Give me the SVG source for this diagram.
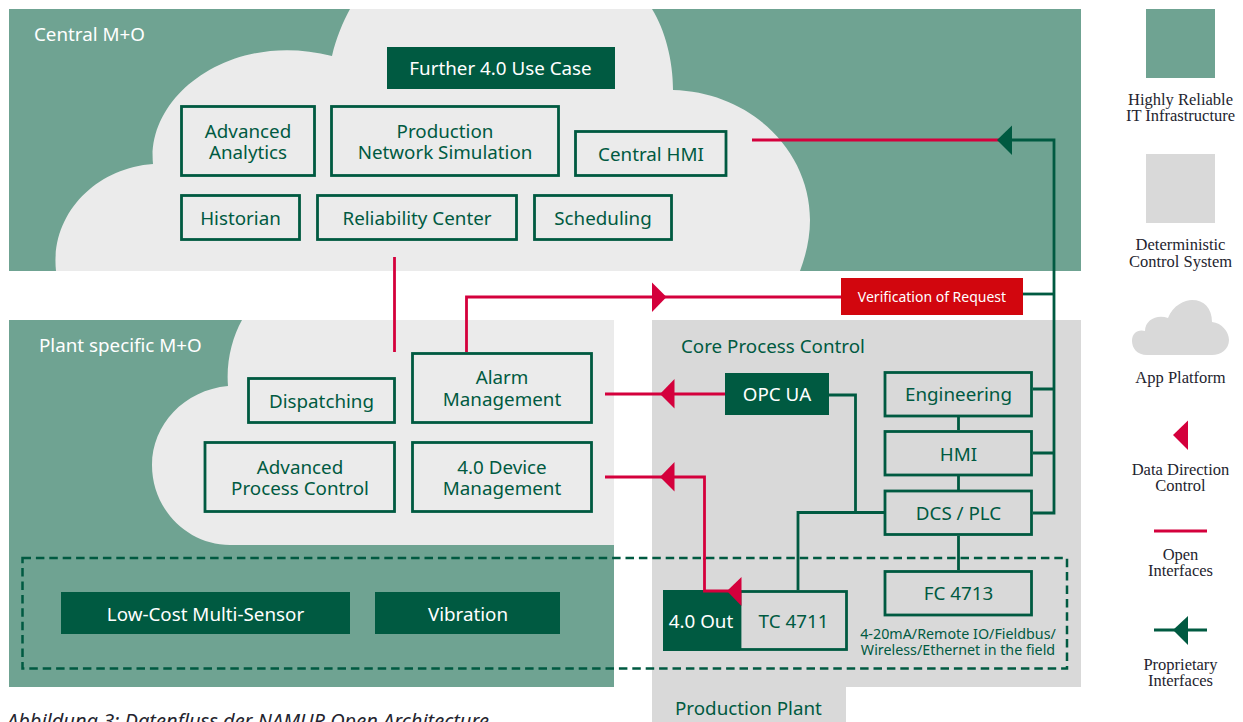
<svg xmlns="http://www.w3.org/2000/svg" width="1243" height="722" viewBox="0 0 1243 722">
<style>
text{font-family:"Noto Sans","Liberation Sans",sans-serif;font-size:18.800px;fill:#005a41;text-anchor:middle}
.w{fill:#fff}
.l{text-anchor:start}
.box{fill:none;stroke:#005a41;stroke-width:2.800}
.dark{fill:#005a41}
.g{fill:none;stroke:#005a41;stroke-width:2.800}
.r{fill:none;stroke:#d4003c;stroke-width:2.800}
.ra{fill:#d4003c}
.ga{fill:#005a41}
.leg{font-family:"Liberation Serif",serif;font-size:16.500px;fill:#24242e}
.s{font-size:14.300px}
</style>
<g id="backgrounds">
<rect x="9" y="9" width="1072" height="262" fill="#6fa392"/>
<rect x="9" y="320" width="605" height="367" fill="#6fa392"/>
<path d="M652 320H1081V687H846V722H652Z" fill="#d9d9d9"/>
<path id="cloud-central" d="M56 271C50 215 95 168 153 164C146 95 232 30 332 56C336 38 343 22 350 9H652C665 30 673 60 673 90C750 92 810 150 810 220C810 238 806 255 800 271Z" fill="#ebebeb"/>
<path id="cloud-plant" d="M242 320C232 338 226 362 228 386C184 390 152 425 152 465C152 510 188 545 230 545H614V320Z" fill="#ebebeb"/>
<text class="w l" x="34" y="41">Central M+O</text>
<text class="w l" x="39" y="352">Plant specific M+O</text>
<text class="l" x="681" y="353">Core Process Control</text>
<text class="l" x="675" y="715">Production Plant</text>
</g>
<g id="connectors">
<path class="r" d="M394.500 257V352"/>
<path class="r" d="M466.500 352V297H842"/>
<path class="g" d="M1023 294H1054"/>
<path class="r" d="M752 140H1000"/>
<path class="g" d="M1000 140H1054V513H1033M1054 389H1033M1054 453H1033"/>
<path class="r" d="M605 394H725"/>
<path class="g" d="M829 395H855.500V512.500"/>
<path class="g" d="M884 512.500H798V590"/>
<path class="g" d="M958.500 417V430M958.500 476V490M958.500 536V570"/>
<path class="r" d="M605 477H704.500V560"/>
<polygon class="ra" points="666.500,297 652,282.500 652,312"/>
<polygon class="ga" points="997,140 1012,125.500 1012,155"/>
<polygon class="ra" points="660,394 674.500,379 674.500,408.500"/>
<polygon class="ra" points="660,477 674.500,462 674.500,491.500"/>
</g>
<rect id="field-boundary" x="22.500" y="558" width="1044.500" height="110.500" fill="none" stroke="#005a41" stroke-width="2.500" stroke-dasharray="8.500 4.900"/>
<g id="further"><rect class="dark" x="387" y="47" width="228" height="42"/><text class="w" x="500.500" y="75">Further 4.0 Use Case</text></g>
<g id="advanced-analytics"><rect class="box" x="181.500" y="106.500" width="133" height="69"/><text x="248" y="138">Advanced</text><text x="248" y="159">Analytics</text></g>
<g id="production-network"><rect class="box" x="331.500" y="106.500" width="227" height="69"/><text x="445" y="138">Production</text><text x="445" y="159">Network Simulation</text></g>
<g id="central-hmi"><rect class="box" x="575.500" y="131.500" width="150.500" height="44"/><text x="651" y="161">Central HMI</text></g>
<g id="historian"><rect class="box" x="181.500" y="195.500" width="118" height="44"/><text x="240.500" y="225">Historian</text></g>
<g id="reliability"><rect class="box" x="317.500" y="195.500" width="199" height="44"/><text x="417" y="225">Reliability Center</text></g>
<g id="scheduling"><rect class="box" x="534.500" y="195.500" width="137" height="44"/><text x="603" y="225">Scheduling</text></g>
<g id="dispatching"><rect class="box" x="248.500" y="378.500" width="146" height="44"/><text x="321.500" y="408">Dispatching</text></g>
<g id="apc"><rect class="box" x="205" y="442.500" width="189.500" height="69"/><text x="300" y="474">Advanced</text><text x="300" y="495">Process Control</text></g>
<g id="alarm"><rect class="box" x="412.500" y="353.500" width="179" height="69"/><text x="502" y="384">Alarm</text><text x="502" y="406">Management</text></g>
<g id="device"><rect class="box" x="412.500" y="442.500" width="179" height="69"/><text x="502" y="474">4.0 Device</text><text x="502" y="495">Management</text></g>
<g id="opc-ua"><rect class="dark" x="725" y="373" width="104" height="42"/><text class="w" x="777" y="401">OPC UA</text></g>
<g id="engineering"><rect class="box" x="885" y="372.500" width="146.500" height="43.500"/><text x="958.500" y="401">Engineering</text></g>
<g id="hmi"><rect class="box" x="885" y="431.500" width="146.500" height="43.500"/><text x="958.500" y="461">HMI</text></g>
<g id="dcs"><rect class="box" x="885" y="491" width="146.500" height="43.500"/><text x="958.500" y="520">DCS / PLC</text></g>
<g id="fc"><rect class="box" x="885" y="571.500" width="146.500" height="43.500"/><text x="958.500" y="600">FC 4713</text></g>
<text class="s" x="958" y="639">4-20mA/Remote IO/Fieldbus/</text>
<text class="s" x="958" y="655">Wireless/Ethernet in the field</text>
<g id="tc"><rect class="box" x="740" y="591.500" width="106.500" height="58"/><text x="793.500" y="628">TC 4711</text></g>
<g id="out"><rect class="dark" x="663" y="590" width="77" height="61"/><text class="w" x="701" y="628">4.0 Out</text></g>
<path class="r" d="M704.500 558V591H730"/>
<polygon class="ra" points="727,591 741.500,577 741.500,606"/>
<g id="low-cost"><rect class="dark" x="61" y="592" width="289" height="42"/><text class="w" x="205.500" y="621">Low-Cost Multi-Sensor</text></g>
<g id="vibration"><rect class="dark" x="375" y="592" width="185" height="42"/><text class="w" x="468" y="621">Vibration</text></g>
<g id="verification"><rect x="841" y="278" width="182" height="37" fill="#d2060e"/><text class="w" x="932" y="302" style="font-size:14px">Verification of Request</text></g>
<g id="legend">
<rect x="1146" y="9" width="69" height="69" fill="#6fa392"/>
<text class="leg" x="1180.500" y="105">Highly Reliable</text><text class="leg" x="1180.500" y="121">IT Infrastructure</text>
<rect x="1146" y="154" width="69" height="69" fill="#d9d9d9"/>
<text class="leg" x="1180.500" y="250">Deterministic</text><text class="leg" x="1180.500" y="267">Control System</text>
<path d="M1147 355C1137 355 1132 348 1132 341C1132 333 1138 329 1145 331C1145 320 1157 314 1168 318C1173 305 1185 300 1192 300C1204 300 1212 308 1212 322C1222 323 1229 332 1229 340C1229 349 1221 355 1212 355Z" fill="#d9d9d9"/>
<text class="leg" x="1180.500" y="383">App Platform</text>
<polygon class="ra" points="1173,435 1188,420.500 1188,450"/>
<text class="leg" x="1180.500" y="475">Data Direction</text><text class="leg" x="1180.500" y="491">Control</text>
<path class="r" d="M1154 531H1207"/>
<text class="leg" x="1180.500" y="560">Open</text><text class="leg" x="1180.500" y="576">Interfaces</text>
<path class="g" d="M1154 630H1207"/>
<polygon class="ga" points="1173,630 1188,616 1188,645"/>
<text class="leg" x="1180.500" y="670">Proprietary</text><text class="leg" x="1180.500" y="686">Interfaces</text>
</g>
<text class="l" x="7" y="728" style="font-style:italic;fill:#24242e;font-size:20px">Abbildung 3: Datenfluss der NAMUR Open Architecture</text>
</svg>
